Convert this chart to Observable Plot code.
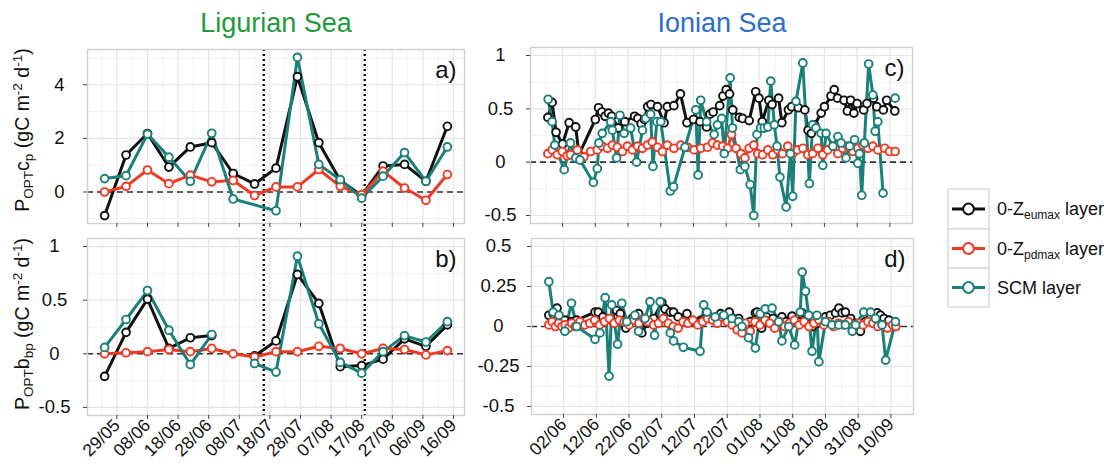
<!DOCTYPE html>
<html><head><meta charset="utf-8">
<script src="https://cdn.jsdelivr.net/npm/d3@7"></script>
<script src="https://cdn.jsdelivr.net/npm/@observablehq/plot@0.6"></script>
<style>
html,body{margin:0;padding:0;background:#fff;}
#fig{position:relative;width:1117px;height:468px;overflow:hidden;font-family:"Liberation Sans",Arial,Helvetica,sans-serif;}
</style></head><body><div id="fig"></div>
<script>
const YEAR = 2015;
const seriesKeys = ["eu", "pd", "scm"];
const seriesColors = {eu: "#111111", pd: "#ee3a24", scm: "#1a8079"};

// ---- Ligurian Sea (weekly) ----
const ligDates = ["25/05","01/06","08/06","15/06","22/06","29/06","06/07","13/07","20/07","27/07","03/08","10/08","17/08","24/08","31/08","07/09","14/09"];
const ligA_eu  = [-0.88,1.38,2.18,0.93,1.68,1.84,0.69,0.30,0.89,4.30,1.84,0.43,-0.13,0.97,1.03,0.40,2.45];
const ligA_pd  = [0.00,0.21,0.82,0.31,0.63,0.38,0.43,-0.13,0.19,0.19,0.84,0.21,-0.10,0.78,0.15,-0.31,0.65];
const ligA_scm = [0.50,0.61,2.16,1.30,0.40,2.19,-0.26,null,-0.70,5.02,1.03,0.46,-0.23,0.59,1.47,0.40,1.68];
const ligB_eu  = [-0.21,0.20,0.51,0.05,0.15,0.17,null,-0.02,0.12,0.74,0.47,-0.12,-0.11,-0.05,0.14,0.07,0.27];
const ligB_pd  = [0.00,0.01,0.02,0.04,0.02,0.05,0.00,-0.03,0.02,0.02,0.07,0.05,0.00,0.05,0.04,-0.01,0.03];
const ligB_scm = [0.06,0.32,0.59,0.22,-0.10,0.18,null,-0.09,-0.17,0.91,0.28,-0.08,-0.18,0.02,0.17,0.11,0.30];
const ligTickLabels = ["29/05","08/06","18/06","28/06","08/07","18/07","28/07","07/08","17/08","27/08","06/09","16/09"];
const ligMarkers = ["16/07","18/08"];

// ---- Ionian Sea (days after 02/06, value) ----
const ionStart = "02/06";
const ionC_eu = [[-4.5,0.42],[-3.2,0.56],[-2,0.28],[0,0.17],[2,0.37],[4,0.33],[5,0.07],[10,0.40],[11,0.51],[12,0.47],[13,0.43],[14,0.46],[15,0.43],[17,0.32],[19,0.38],[22,0.43],[23,0.41],[24,0.36],[25,0.40],[26,0.52],[27,0.54],[29,0.52],[31,0.37],[32,0.52],[34,0.53],[36,0.64],[38,0.37],[40,0.40],[42,0.38],[44,0.33],[45,0.45],[46,0.47],[48,0.53],[49,0.62],[50,0.68],[51,0.64],[52,0.49],[54,0.42],[55,0.41],[57,0.39],[59,0.66],[60,0.60],[61,0.38],[63,0.58],[64,0.54],[66,0.60],[67,0.37],[69,0.49],[70,0.52],[72,0.51],[74,0.49],[75,0.30],[76,0.27],[77,0.35],[79,0.46],[80,0.52],[82,0.62],[83,0.68],[84,0.60],[86,0.58],[87,0.48],[88,0.58],[89,0.46],[90,0.55],[92,0.49],[93,0.55],[95,0.60],[96,0.52],[98,0.49],[99,0.58],[101.5,0.48]];
const ionC_pd = [[-4.5,0.08],[-3.2,0.115],[-1.6,0.07],[-0.1,0.10],[1.4,0.06],[2.4,0.07],[4.5,0.115],[6.5,0.05],[8.6,0.10],[10.6,0.115],[12.1,0.15],[13.7,0.13],[15.2,0.16],[16.7,0.14],[18.3,0.10],[19.8,0.15],[21.3,0.115],[22.9,0.15],[24.4,0.13],[25.9,0.16],[27.4,0.19],[29,0.14],[30.5,0.10],[32,0.16],[34,0.13],[36.1,0.16],[38.2,0.14],[40.2,0.115],[42.2,0.13],[44.3,0.14],[45.8,0.18],[47.3,0.16],[48.9,0.15],[50.4,0.13],[51.6,0.26],[53,0.13],[54.5,0.08],[55.7,0.04],[57,0.13],[58.4,0.16],[59.6,0.08],[61.1,0.07],[62.7,0.115],[64.2,0.07],[65.7,0.115],[67.2,0.08],[68.8,0.15],[70.3,0.08],[71.8,0.115],[73.4,0.13],[74.9,0.07],[76.4,0.08],[78,0.13],[79.5,0.07],[81,0.115],[82.6,0.15],[84.1,0.08],[85.6,0.13],[87.1,0.15],[88.7,0.10],[90.2,0.13],[91.7,0.16],[93.3,0.13],[94.8,0.15],[96.3,0.115],[98.4,0.13],[99.9,0.10],[101.6,0.10]];
const ionC_scm = [[-4.4,0.59],[-3.2,0.38],[-2.4,0.16],[0.5,-0.07],[2.4,0.18],[4,0.04],[5.3,0.02],[9.4,-0.19],[10.6,-0.06],[11.1,0.18],[12.1,0.27],[14.7,0.38],[15.2,0.30],[16.5,0.04],[17.5,0.44],[18.8,0.27],[20.8,0.32],[22.6,0.0],[24.4,0.30],[25.4,0.41],[26.9,0.45],[27.6,-0.04],[28.8,0.38],[30,0.38],[32.9,-0.27],[33.9,-0.23],[37.4,0.14],[40.7,0.49],[41.4,-0.12],[42.2,0.58],[44,0.38],[46.3,0.26],[47.3,0.35],[48.6,0.41],[49.4,0.08],[51.2,0.79],[51.9,0.32],[54.3,-0.07],[55.7,-0.04],[57.3,-0.21],[58.4,-0.50],[59.4,0.26],[60.5,0.32],[61.6,0.32],[62.7,0.33],[63.6,0.76],[64.7,0.35],[65.5,0.15],[66.4,-0.14],[68.3,-0.42],[69.6,0.08],[70.3,-0.32],[71.3,0.57],[73.4,0.93],[75.4,-0.20],[76.4,0.35],[77.4,0.32],[79,0.27],[79.5,-0.03],[80.5,0.27],[82.6,0.15],[84.1,0.24],[85.1,0.18],[86.6,0.04],[87.7,0.15],[89.2,0.21],[90.2,-0.01],[90.7,0.08],[91.4,-0.31],[92.2,0.18],[93.5,0.92],[94.8,0.63],[95.5,0.29],[96.3,0.38],[97.9,-0.29],[99,null],[101.6,0.60]];
const ionD_eu = [[-4.5,0.07],[-3.2,0.08],[-2,0.115],[0.4,0.04],[2.4,0.03],[4,0.04],[9.6,0.09],[10.6,0.09],[12,0.06],[14.5,0.04],[16.2,0.10],[17.3,0.08],[19,-0.01],[21,0.05],[22.9,0.08],[23.9,-0.04],[25.5,0.02],[27.5,0.05],[30,0.15],[31,0.11],[32.6,0.09],[33.6,0.09],[35,0.06],[37.7,0.08],[39,0.03],[43.8,0.08],[46.5,0.05],[48,0.08],[50.6,0.09],[53.5,0.05],[55.5,0.0],[57,0.03],[58.6,0.085],[59.1,0.09],[60.5,-0.01],[62,0.06],[64,0.05],[66.7,0.06],[68,0.03],[69.8,0.065],[71.5,0.03],[72.9,0.085],[74.5,0.06],[76,0.0],[77.5,0.02],[80,0.06],[81.5,0.07],[83.1,0.085],[84.1,0.115],[85.1,0.085],[86.1,0.09],[87.7,0.05],[89,0.02],[90.7,-0.03],[92.2,0.03],[93.8,0.07],[95.8,0.085],[96.8,0.07],[97.9,0.05],[99.4,0.04],[101.4,0.0]];
const ionD_pd = [[-4.5,0.01],[-3.5,0.03],[-2.5,0.0],[-1.5,0.02],[-0.5,0.0],[0.5,0.01],[1.5,-0.01],[2.5,0.02],[3.5,0.0],[5,0.03],[6.5,0.01],[8,0.02],[9.5,0.04],[11,0.01],[12.5,0.03],[14,0.05],[15.5,0.02],[17,0.04],[18.5,0.03],[20,0.01],[21.5,0.04],[23,0.02],[24.5,0.05],[26,0.03],[27.5,0.01],[29,0.02],[30.5,0.05],[32,0.02],[33.5,0.0],[35,-0.01],[36.5,0.03],[38,0.02],[39.5,0.04],[41,0.01],[42.5,0.03],[44,0.05],[45.5,0.04],[47,0.02],[48.5,0.06],[50,0.03],[51.5,0.01],[53,-0.02],[54.5,-0.04],[55.5,0.02],[57,-0.03],[58.5,0.03],[60,0.01],[61.5,0.04],[63,0.02],[64.5,-0.01],[66,0.03],[67.5,0.0],[69,0.02],[70.5,0.04],[72,0.01],[73.5,0.03],[75,0.0],[76.5,0.02],[78,0.04],[79.5,0.01],[81,0.03],[82.5,0.0],[84,0.02],[85.5,0.01],[87,0.03],[88.5,0.0],[90,0.02],[91.5,0.01],[93,0.03],[94.5,0.02],[96,0.0],[97.5,0.01],[99,-0.01],[100.5,0.01],[101.5,0.0]];
const ionD_scm = [[-4.5,0.28],[-3.2,0.09],[-1.4,0.07],[0.4,-0.03],[2.4,0.145],[4,0.0],[9.6,-0.08],[11.1,-0.04],[12.7,0.18],[13.9,-0.31],[14.7,0.135],[16.5,-0.11],[17.8,0.145],[19.3,0.03],[21.8,0.07],[22.9,-0.03],[24.9,0.05],[26.4,0.155],[27.8,-0.055],[29.5,0.155],[32.6,-0.04],[33.6,-0.09],[36.6,-0.13],[41.7,-0.155],[42.8,0.135],[43.8,0.09],[46.3,0.06],[48.9,0.07],[51.4,0.05],[53.5,0.03],[54.5,0.0],[56.5,-0.07],[58.6,-0.135],[60.1,0.08],[61.6,0.11],[63.7,0.115],[65.7,0.03],[66.7,-0.09],[68.8,0.0],[70.6,-0.115],[72.3,0.09],[72.9,0.34],[73.9,0.22],[74.9,0.07],[75.9,-0.155],[77.4,0.07],[78,-0.22],[80,0.03],[82,0.01],[84.1,0.01],[86.1,0.01],[88.2,-0.03],[89.2,0.01],[91.7,0.09],[93.8,0.09],[95.3,0.05],[97.3,0.01],[98.4,-0.21],[101.4,0.03]];
const ionTickLabels = ["02/06","12/06","22/06","02/07","12/07","22/07","01/08","11/08","21/08","31/08","10/09"];

const titles = ["Ligurian Sea", "Ionian Sea"];
const titleColors = ["#1f9a3a", "#2b6dcf"];
const legendLabels = [["0-Z", "eumax", " layer"], ["0-Z", "pdmax", " layer"], ["SCM layer", "", ""]];

// ---- helpers ----
const DAY = 864e5;
const parseDM = s => { const [d, m] = s.split("/").map(Number); return new Date(Date.UTC(YEAR, m - 1, d)); };
const ionT0 = parseDM(ionStart);
const ionDate = off => new Date(ionT0.getTime() + off * DAY);
function ligRows(vals, connect) {
  const rows = ligDates.map((s, i) => ({date: parseDM(s), value: vals[i]}));
  return connect ? rows.filter(d => d.value != null) : rows;
}
const ionRows = pairs => pairs.map(([o, v]) => ({date: ionDate(o), value: v}));
function expand([a, b], f = 0.05) { const s = b - a; return [a - s * f, b + s * f]; }
function expandDates([a, b]) { const s = b - a; return [new Date(+a - s * 0.05), new Date(+b + s * 0.05)]; }
function minorOf(ticks, dom) {
  const out = [];
  for (let i = 0; i < ticks.length - 1; i++) out.push(new Date((+ticks[i] + +ticks[i + 1]) / 2));
  const step = ticks[1] - ticks[0];
  out.unshift(new Date(+ticks[0] - step / 2));
  out.push(new Date(+ticks[ticks.length - 1] + step / 2));
  return out.filter(d => d >= dom[0] && d <= dom[1]);
}

const ligTicks = ligTickLabels.map(parseDM);
const ionTicks = ionTickLabels.map(parseDM);
const ligXDom = expandDates(d3.extent(ligDates.map(parseDM)));
const ionAll = [...ionC_eu, ...ionC_pd, ...ionC_scm, ...ionD_eu, ...ionD_pd, ...ionD_scm].map(d => d[0]);
const ionXDom = expandDates(d3.extent(ionAll).map(ionDate));

const fig = document.getElementById("fig");

function makePanel(cfg) {
  const marks = [
    Plot.gridX(cfg.xMinor, {stroke: "#f2f2f2", strokeOpacity: 1, strokeWidth: 1}),
    Plot.gridY(cfg.yMinor, {stroke: "#f2f2f2", strokeOpacity: 1, strokeWidth: 1}),
    Plot.gridX(cfg.xTicks, {stroke: "#e4e4e4", strokeOpacity: 1, strokeWidth: 1.2}),
    Plot.gridY(cfg.yTicks, {stroke: "#e4e4e4", strokeOpacity: 1, strokeWidth: 1.2}),
    Plot.ruleY([0], {stroke: "#333", strokeWidth: 1.6, strokeDasharray: "6,4"})
  ];
  if (cfg.vlines) marks.push(Plot.ruleX(cfg.vlines, {stroke: "#000", strokeWidth: 2.3, strokeDasharray: "2,3", insetTop: cfg.vInsetTop || 0, insetBottom: cfg.vInsetBottom || 0}));
  for (const s of cfg.series) marks.push(Plot.line(s.rows, {x: "date", y: "value", stroke: s.color, strokeWidth: 3}));
  for (const s of cfg.series) marks.push(Plot.dot(s.rows.filter(d => d.value != null), {x: "date", y: "value", r: 3.9, stroke: s.color, strokeWidth: 1.9, fill: "white"}));
  marks.push(Plot.frame({stroke: "#cfcfcf", strokeWidth: 1.4}));
  marks.push(Plot.axisX(cfg.xTicks, {tickSize: 4, tickPadding: 3, label: null, stroke: "#444", fill: "#111",
    tickFormat: cfg.xLabels ? d3.utcFormat("%d/%m") : () => "", tickRotate: cfg.xLabels ? -45 : 0, fontSize: 17.5}));
  marks.push(Plot.axisY(cfg.yTicks, {tickSize: 4, tickPadding: cfg.yPad, textAnchor: "middle", label: null, stroke: "#444", fill: "#111", tickFormat: d => String(d), fontSize: 18.5}));
  marks.push(Plot.text([cfg.letter], {text: d => d, frameAnchor: "top-right", dx: -8, dy: 11, fontSize: 24, lineAnchor: "top", textAnchor: "end", fill: "#111"}));
  const svg = Plot.plot({
    width: cfg.width, height: cfg.height,
    marginLeft: cfg.m[0], marginTop: cfg.m[1], marginRight: cfg.m[2], marginBottom: cfg.m[3],
    x: {type: "utc", domain: cfg.xDomain},
    y: {domain: cfg.yDomain},
    style: {fontFamily: '"Liberation Sans", Arial, Helvetica, sans-serif', background: "none", color: "#111", overflow: "visible"},
    marks
  });
  svg.style.position = "absolute";
  svg.style.left = cfg.left + "px";
  svg.style.top = cfg.top + "px";
  fig.appendChild(svg);
  return svg;
}

const mk = (rowsByKey) => seriesKeys.map(k => ({rows: rowsByKey[k], color: seriesColors[k]}));
const aDom = expand(d3.extent([...ligA_eu, ...ligA_pd, ...ligA_scm].filter(v => v != null)));
const bDom = expand([-0.5, 1]);
const cDom = expand([-0.5, 1]);
const dDom = expand([-0.5, 0.5]);
const vlines = ligMarkers.map(parseDM);

makePanel({left: 40, top: 40, width: 430, height: 190, m: [47, 9, 6, 7], yPad: 24,
  xDomain: ligXDom, yDomain: aDom, xTicks: ligTicks, xMinor: minorOf(ligTicks, ligXDom),
  yTicks: [0, 2, 4], yMinor: [-1, 1, 3, 5], letter: "a)", xLabels: false, vlines, vInsetBottom: -7,
  series: mk({eu: ligRows(ligA_eu, true), pd: ligRows(ligA_pd, true), scm: ligRows(ligA_scm, true)})});
makePanel({left: 40, top: 229, width: 430, height: 239, m: [47, 9, 6, 53], yPad: 29,
  xDomain: ligXDom, yDomain: bDom, xTicks: ligTicks, xMinor: minorOf(ligTicks, ligXDom),
  yTicks: [-0.5, 0, 0.5, 1], yMinor: [-0.25, 0.25, 0.75], letter: "b)", xLabels: true, vlines, vInsetTop: -9,
  series: mk({eu: ligRows(ligB_eu, false), pd: ligRows(ligB_pd, false), scm: ligRows(ligB_scm, false)})});
makePanel({left: 480, top: 38, width: 440, height: 192, m: [50, 9, 8, 7], yPad: 26,
  xDomain: ionXDom, yDomain: cDom, xTicks: ionTicks, xMinor: minorOf(ionTicks, ionXDom),
  yTicks: [-0.5, 0, 0.5, 1], yMinor: [-0.25, 0.25, 0.75], letter: "c)", xLabels: false,
  series: mk({eu: ionRows(ionC_eu), pd: ionRows(ionC_pd), scm: ionRows(ionC_scm)})});
makePanel({left: 480, top: 229, width: 440, height: 239, m: [51, 9, 7, 54], yPad: 29,
  xDomain: ionXDom, yDomain: dDom, xTicks: ionTicks, xMinor: minorOf(ionTicks, ionXDom),
  yTicks: [-0.5, -0.25, 0, 0.25, 0.5], yMinor: [-0.375, -0.125, 0.125, 0.375], letter: "d)", xLabels: true,
  series: mk({eu: ionRows(ionD_eu), pd: ionRows(ionD_pd), scm: ionRows(ionD_scm)})});

// ---- overlay: titles, y labels, legend ----
const ov = d3.select(fig).append("svg")
  .attr("width", 1117).attr("height", 468)
  .style("position", "absolute").style("left", "0px").style("top", "0px")
  .style("font-family", '"Liberation Sans", Arial, Helvetica, sans-serif');

ov.append("text").attr("x", 276).attr("y", 32).attr("text-anchor", "middle").attr("font-size", 27).attr("fill", titleColors[0]).text(titles[0]);
ov.append("text").attr("x", 722).attr("y", 32).attr("text-anchor", "middle").attr("font-size", 27).attr("fill", titleColors[1]).text(titles[1]);

function yLabel(cx, cy, parts) {
  const t = ov.append("text").attr("transform", `translate(${cx},${cy}) rotate(-90)`)
    .attr("text-anchor", "middle").attr("font-size", 19.5).attr("fill", "#111");
  for (const [str, kind] of parts) {
    const ts = t.append("tspan").text(str);
    if (kind === "sub") ts.attr("font-size", 13.5).attr("dy", 4);
    if (kind === "sup") ts.attr("font-size", 13.5).attr("dy", -7);
    if (kind === "back-sub") ts.attr("dy", -4);
    if (kind === "back-sup") ts.attr("dy", 7);
  }
}
yLabel(29, 130, [["P"], ["OPT", "sub"], ["c", "back-sub"], ["p", "sub"], [" (gC m", "back-sub"], ["-2", "sup"], [" d", "back-sup"], ["-1", "sup"], [")", "back-sup"]]);
yLabel(29, 324, [["P"], ["OPT", "sub"], ["b", "back-sub"], ["bp", "sub"], [" (gC m", "back-sub"], ["-2", "sup"], [" d", "back-sup"], ["-1", "sup"], [")", "back-sup"]]);

// legend
const lgX = 948, lgW = 41, lgTops = [189, 229, 268], lgH = [40, 39, 39];
seriesKeys.forEach((k, i) => {
  const y0 = lgTops[i], cy = y0 + lgH[i] / 2;
  ov.append("rect").attr("x", lgX).attr("y", y0).attr("width", lgW).attr("height", lgH[i])
    .attr("fill", "white").attr("stroke", "#d6d6d6").attr("stroke-width", 1.3);
  ov.append("line").attr("x1", lgX + 4).attr("x2", lgX + lgW - 4).attr("y1", cy).attr("y2", cy)
    .attr("stroke", seriesColors[k]).attr("stroke-width", 3);
  ov.append("circle").attr("cx", lgX + lgW / 2).attr("cy", cy).attr("r", 5.4)
    .attr("fill", "white").attr("stroke", seriesColors[k]).attr("stroke-width", 2);
  const [a, sub, b] = legendLabels[i];
  const t = ov.append("text").attr("x", 997).attr("y", cy + 6).attr("font-size", 18).attr("fill", "#111");
  t.append("tspan").text(a);
  if (sub) {
    t.append("tspan").text(sub).attr("font-size", 12).attr("dy", 4);
    t.append("tspan").text(b).attr("dy", -4);
  }
});
</script>
</body></html>
